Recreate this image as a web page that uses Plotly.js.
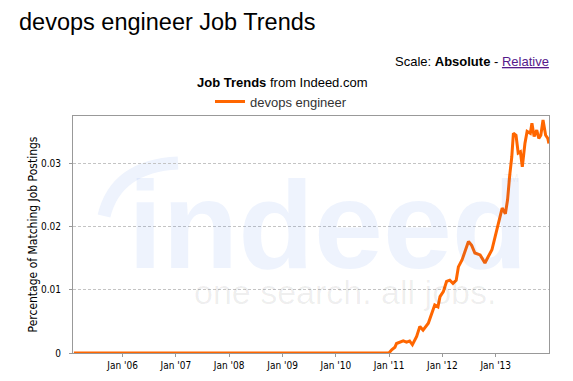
<!DOCTYPE html>
<html>
<head>
<meta charset="utf-8">
<script src="https://cdn.plot.ly/plotly-3.0.1.min.js"></script>
<style>html,body{margin:0;padding:0;background:#fff;}#chart{width:573px;height:381px;}</style>
</head>
<body>
<div id="chart"></div>
<script>
// Series: devops engineer, percentage of matching job postings
const dates = [
  "2005-02-01","2006-01-01","2007-01-01","2008-01-01","2009-01-01","2010-01-01","2010-12-31",
  "2011-01-19","2011-02-10","2011-02-21","2011-04-08","2011-05-01","2011-05-22","2011-06-10",
  "2011-07-09","2011-07-31","2011-08-22","2011-09-27","2011-10-19","2011-11-10","2011-12-02",
  "2011-12-16","2012-01-08","2012-01-30","2012-02-21","2012-03-14","2012-04-05","2012-04-20",
  "2012-05-15","2012-06-06","2012-06-28","2012-07-20","2012-08-11","2012-09-16","2012-10-19",
  "2012-11-10","2012-12-06","2012-12-28","2013-01-19","2013-02-14","2013-03-08","2013-03-23",
  "2013-04-06","2013-04-21","2013-05-02","2013-05-20","2013-06-04","2013-06-19","2013-07-02",
  "2013-07-20","2013-08-04","2013-08-26","2013-09-06","2013-09-21","2013-10-09","2013-10-23",
  "2013-11-06","2013-11-21","2013-12-09","2013-12-24","2013-12-31"
];
const values = [
  0,0,0,0,0,0,0,
  0.0005,0.0009,0.0015,0.0019,0.0017,0.0019,0.0013,
  0.0026,0.0042,0.0036,0.0047,0.0060,0.0076,0.0073,
  0.0089,0.0097,0.0113,0.0115,0.0110,0.0115,0.0136,
  0.0147,0.0163,0.0176,0.0170,0.0158,0.0155,0.0142,
  0.0152,0.0163,0.0184,0.0205,0.0229,0.0220,0.0242,
  0.0279,0.0310,0.0347,0.0344,0.0316,0.0318,0.0294,
  0.0331,0.0350,0.0347,0.0363,0.0342,0.0352,0.0339,
  0.0344,0.0368,0.0344,0.0339,0.0331
];
const seriesName = "devops engineer";
const xTickVals = ["2006-01-01","2007-01-01","2008-01-01","2009-01-01","2010-01-01","2011-01-01","2012-01-01","2013-01-01"];
const xTickText = ["Jan '06","Jan '07","Jan '08","Jan '09","Jan '10","Jan '11","Jan '12","Jan '13"];
const yTickVals = [0, 0.01, 0.02, 0.03];
const yTickText = ["0", "0.01", "0.02", "0.03"];

const L = 73, R = 549, T = 116, B = 353;
const px = x => (x - L) / (R - L);
const py = y => (B - y) / (B - T);

const trace = {
  x: dates, y: values, type: "scatter", mode: "lines", name: seriesName,
  line: {color: "#ff6600", width: 3}, showlegend: true
};

const WM_BLUE = "rgba(12,84,226,0.07)";
const WM_GRAY = "rgba(0,0,0,0.065)";
const TICKFONT = "'DejaVu Sans Condensed', 'DejaVu Sans', sans-serif";
const ARIAL = "'Liberation Sans', Arial, sans-serif";

const layout = {
  width: 573, height: 381,
  margin: {l: L, r: 573 - R, t: T, b: 381 - B, pad: 0},
  paper_bgcolor: "#ffffff", plot_bgcolor: "rgba(0,0,0,0)",
  font: {family: TICKFONT, size: 11, color: "#000"},
  showlegend: true,
  legend: {
    orientation: "h", x: px(210), xanchor: "left", y: py(101.5), yanchor: "middle",
    font: {family: ARIAL, size: 13, color: "#333"},
    bgcolor: "rgba(0,0,0,0)", itemwidth: 30
  },
  xaxis: {
    type: "date", range: ["2005-01-26", "2014-01-01"],
    tickvals: xTickVals, ticktext: xTickText,
    ticks: "outside", ticklen: 3, tickcolor: "#999", tickwidth: 1,
    showgrid: false, zeroline: false,
    showline: true, linecolor: "#999", linewidth: 1, mirror: true,
    tickfont: {family: TICKFONT, size: 10, color: "#000"}
  },
  yaxis: {
    range: [0, 0.03744], tickvals: yTickVals, ticktext: yTickText,
    showgrid: true, gridcolor: "#c4c4c4", griddash: "3px,2px", gridwidth: 1,
    zeroline: false, ticks: "outside", ticklen: 3, tickcolor: "#999", ticklabelstandoff: 6,
    showline: true, linecolor: "#999", linewidth: 1, mirror: true,
    tickfont: {family: TICKFONT, size: 10, color: "#000"},
    title: {text: "Percentage of Matching Job Postings", standoff: 0,
            font: {family: TICKFONT, size: 12, color: "#000"}}
  },
  shapes: [
    {type: "path", xref: "paper", yref: "paper", layer: "below",
     path: `M ${px(104)} ${py(216)} Q ${px(116)} ${py(166)} ${px(178)} ${py(163)}`,
     line: {color: "#eef3fd", width: 13}}
  ],
  annotations: [
    {text: "devops engineer Job Trends", xref: "paper", yref: "paper", x: px(17), y: py(22),
     xanchor: "left", yanchor: "middle", showarrow: false,
     font: {family: ARIAL, size: 23.5, color: "#000"}},
    {text: "Scale: <b>Absolute</b> - <span style=\"color:#551a8b;text-decoration:underline\">Relative</span>",
     xref: "paper", yref: "paper", x: px(551), y: py(62), xanchor: "right", yanchor: "middle", showarrow: false,
     font: {family: ARIAL, size: 13, color: "#000"}},
    {text: "<b>Job Trends</b> from Indeed.com", xref: "paper", yref: "paper", x: px(282), y: py(82.5),
     xanchor: "center", yanchor: "middle", showarrow: false,
     font: {family: ARIAL, size: 13, color: "#000"}},
    {text: "<b>indeed</b>", xref: "paper", yref: "paper", x: px(328), y: py(225),
     xanchor: "center", yanchor: "middle", showarrow: false,
     font: {family: ARIAL, size: 124, color: WM_BLUE}},
    {text: "TM", xref: "paper", yref: "paper", x: px(511), y: py(178),
     xanchor: "center", yanchor: "middle", showarrow: false,
     font: {family: ARIAL, size: 10, color: WM_GRAY}},
    {text: "one search. all jobs.", xref: "paper", yref: "paper", x: px(345), y: py(292),
     xanchor: "center", yanchor: "middle", showarrow: false,
     font: {family: ARIAL, size: 34, color: WM_GRAY}}
  ]
};

Plotly.newPlot("chart", [trace], layout, {displayModeBar: false, staticPlot: true});
</script>
</body>
</html>
